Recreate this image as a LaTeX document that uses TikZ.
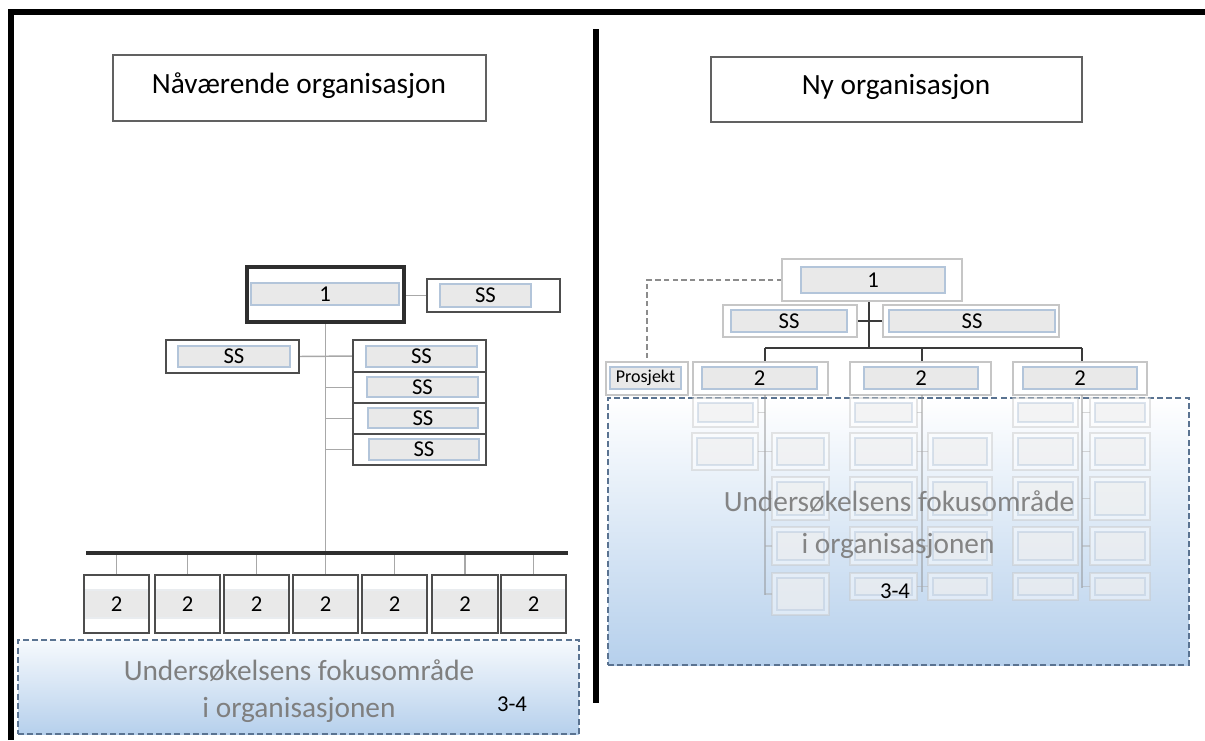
\documentclass[tikz,border=0pt]{standalone}
\usepackage{fontspec}
\setmainfont{Carlito}

\definecolor{boxline}{HTML}{4D4D4D}
\definecolor{innerfill}{HTML}{E9E9E9}
\definecolor{innerline}{HTML}{B3C5DA}
\definecolor{lightline}{HTML}{C6C6C6}
\definecolor{stub}{HTML}{A8A8A8}
\definecolor{treegrey}{HTML}{3A3A3A}
\definecolor{focusline}{HTML}{5A7391}
\definecolor{focusfill}{HTML}{B6D0EC}
\definecolor{focustext}{HTML}{7F7F7F}
\definecolor{colline}{HTML}{8A8A8A}

\newcommand\titlefont{\fontsize{22}{26}\selectfont}
\newcommand\boxfont{\fontsize{17}{20}\selectfont}
\newcommand\prjfont{\fontsize{13.5}{16}\selectfont}
\newcommand\focusfont{\fontsize{22}{26}\selectfont}

\pgfdeclarelayer{links}
\pgfsetlayers{links,main}

\tikzset{
  every node/.style={inner sep=0pt, outer sep=0pt},
  titlebox/.style={draw=black!62, line width=1.5pt, fill=white},
  mainbox/.style={draw=black!82, line width=2.3pt, fill=white},
  orgbox/.style={draw=boxline, line width=1.6pt, fill=white},
  innerbar/.style={draw=innerline, line width=1pt, fill=innerfill, font=\boxfont},
  band/.style={draw=innerline!80!black!20, line width=0.9pt, fill=innerfill, font=\boxfont},
  softbox/.style={draw=lightline, line width=1.1pt, fill=white},
  softbar/.style={draw=innerline, line width=1pt, fill=innerfill, font=\boxfont},
  stubline/.style={draw=stub, line width=1.1pt},
  busline/.style={draw=black!82, line width=3pt},
  treeline/.style={draw=treegrey, line width=1.6pt},
  linkdash/.style={draw=black!45, line width=1.5pt, dash pattern=on 4pt off 2.5pt},
  framebar/.style={draw=black, line width=3.8pt},
  focusbox/.style={draw=focusline, line width=1.5pt, dash pattern=on 4.5pt off 2.4pt},
  focustxt/.style={font=\focusfont, text=focustext},
  colstroke/.style={draw=colline, line width=1.5pt},
}

% box from its corners in pixel units: name, style, x1, y1, x2, y2, text
\newcommand\bx[7]{%
  \pgfmathsetmacro\bxcx{((#3)+(#5))/2}%
  \pgfmathsetmacro\bxcy{((#4)+(#6))/2}%
  \pgfmathsetmacro\bxw{((#5)-(#3))*0.75}%
  \pgfmathsetmacro\bxh{((#6)-(#4))*0.75}%
  \node[#2, minimum width=\bxw pt, minimum height=\bxh pt] (#1) at (\bxcx,\bxcy) {#7};}

% pale sub-unit box with its inner bar: name, x1, y1, x2, y2
\newcommand\fb[5]{%
  \bx{#1}{softbox}{#2}{#3}{#4}{#5}{}%
  \bx{#1in}{softbar}{(#2)+5}{(#3)+5}{(#4)-5}{(#5)-5}{}}

\begin{document}
\begin{tikzpicture}[x=0.75pt, y=-0.75pt]
\useasboundingbox (0,0) rectangle (1205,740);

% frame and divider
\draw[framebar, line join=miter] (11,740) -- (11,12) -- (1205,12);
\draw[draw=black, line width=5pt] (596,29) -- (596,703);

% ---------- current organisation ----------
\bx{titleL}{titlebox}{113}{55}{486}{121}{}
\node[font=\titlefont] (titleLtext) at (299,86) {Nåværende organisasjon};

\bx{oneL}{mainbox}{247}{267}{404}{322}{}
\bx{oneLin}{innerbar}{251}{283}{399}{305}{1}
\bx{ssA}{orgbox}{427}{279}{560}{312}{}
\bx{ssAin}{innerbar}{440}{284}{531}{307}{SS}
\bx{ssB}{orgbox}{166}{340}{299}{373}{}
\bx{ssBin}{innerbar}{178}{346}{290}{367}{SS}

\bx{st1}{orgbox}{353}{340}{486}{372}{}
\bx{st1in}{innerbar}{366}{346}{477}{367}{SS}
\bx{st2}{orgbox}{353}{372}{486}{403}{}
\bx{st2in}{innerbar}{367}{377}{478}{397}{SS}
\bx{st3}{orgbox}{353}{403}{486}{434}{}
\bx{st3in}{innerbar}{368}{408}{478}{428}{SS}
\bx{st4}{orgbox}{353}{434}{486}{465}{}
\bx{st4in}{innerbar}{369}{439}{479}{460}{SS}

\foreach \a/\b [count=\i] in {84/149,155/220,224/289,293/358,362/427,432/498,501/566}{
  \bx{bt\i}{orgbox}{\a}{575}{\b}{633}{}
  \bx{btin\i}{band}{(\a)+1.5}{590}{(\b)-1.5}{618}{2}
}

\coordinate (busL1) at (86,553);
\coordinate (busL2) at (568,553);
\begin{pgfonlayer}{links}
  \draw[stubline] (ssA.west -| oneL.east) -- (ssA.west);
  \draw[stubline] (oneL.south) -- (oneL.south |- busL1);
  \draw[stubline] (ssB.east) -- (st1.west);
  \foreach \k in {2,3,4}{\draw[stubline] (st\k.west -| oneL.south) -- (st\k.west);}
  \foreach \i in {1,...,7}{\draw[stubline] (bt\i.north) -- (bt\i.north |- busL1);}
  \draw[busline] (busL1) -- (busL2);
\end{pgfonlayer}

% focus area, current organisation
\bx{focL}{focusbox, top color=focusfill!12, bottom color=focusfill}{18}{640}{579}{734}{}
\node[focustxt] (focLa) at (299,671) {Undersøkelsens fokusområde};
\node[focustxt] (focLb) at (299,710) {i organisasjonen};
\node[font=\boxfont] (focLc) at (512,704) {3-4};

% ---------- new organisation ----------
\bx{titleR}{titlebox}{711}{57}{1082}{122}{}
\node[font=\titlefont] (titleRtext) at (896,87) {Ny organisasjon};

\bx{oneR}{softbox}{782}{259}{962}{301}{}
\bx{oneRin}{softbar}{801}{267}{945}{293}{1}
\bx{ssC}{softbox}{723}{305}{857}{337}{}
\bx{ssCin}{softbar}{731}{310}{847}{332}{SS}
\bx{ssD}{softbox}{883}{305}{1059}{337}{}
\bx{ssDin}{softbar}{889}{310}{1055}{332}{SS}

\bx{lvA}{softbox}{693}{362}{828}{395}{}
\bx{lvAin}{softbar}{702}{367}{817}{389}{2}
\bx{lvB}{softbox}{850}{362}{991}{395}{}
\bx{lvBin}{softbar}{864}{367}{978}{389}{2}
\bx{lvC}{softbox}{1013}{362}{1147}{395}{}
\bx{lvCin}{softbar}{1023}{367}{1137}{389}{2}
\bx{prj}{softbox}{606}{362}{688}{395}{}
\bx{prjin}{softbar, font=\prjfont}{610}{367}{681}{389}{Prosjekt}

\coordinate (hub) at (869,348);
\coordinate (colA) at (765,348);
\coordinate (colB) at (922,348);
\coordinate (colC) at (1082,348);
\begin{pgfonlayer}{links}
  \draw[treeline] (hub |- oneR.south) -- (hub);
  \draw[treeline] (ssC.east) -- (ssD.west);
  \draw[treeline] (colA) -- (colC);
  \draw[treeline] (colA) -- (colA |- lvA.north);
  \draw[treeline] (colB) -- (colB |- lvB.north);
  \draw[treeline] (colC) -- (colC |- lvC.north);
  \draw[linkdash] (oneR.west) -| (prj.north);
\end{pgfonlayer}

% focus area, new organisation
\bx{focR}{focusbox, top color=white, middle color=focusfill!30, bottom color=focusfill}{608}{398}{1189}{665}{}

% pale sub-units inside the focus area
\begin{scope}[opacity=0.45]
  \coordinate (endA) at (765,595);
  \coordinate (endB) at (922,592);
  \coordinate (endC) at (1082,588);
  \draw[colstroke] (colA |- lvA.south) -- (endA);
  \draw[colstroke] (colB |- lvB.south) -- (endB);
  \draw[colstroke] (colC |- lvC.south) -- (endC);

  \fb{fa1}{693}{398}{758}{427}
  \fb{fa2}{692}{433}{758}{470}
  \fb{fa3}{772}{433}{829}{470}
  \fb{fa4}{772}{477}{829}{520}
  \fb{fa5}{772}{527}{829}{565}
  \fb{fa6}{772}{573}{829}{615}

  \fb{fb1}{850}{398}{917}{427}
  \fb{fb2}{850}{433}{917}{470}
  \fb{fb3}{928}{433}{992}{470}
  \fb{fb4}{850}{477}{917}{520}
  \fb{fb5}{928}{477}{992}{520}
  \fb{fb6}{850}{527}{917}{565}
  \fb{fb7}{928}{527}{992}{565}
  \fb{fb8}{850}{573}{917}{600}
  \fb{fb9}{928}{573}{992}{600}

  \fb{fc1}{1013}{398}{1078}{427}
  \fb{fc2}{1090}{398}{1150}{427}
  \fb{fc3}{1013}{433}{1078}{470}
  \fb{fc4}{1090}{433}{1150}{470}
  \fb{fc5}{1013}{477}{1078}{520}
  \fb{fc6}{1090}{477}{1150}{520}
  \fb{fc7}{1013}{527}{1078}{565}
  \fb{fc8}{1090}{527}{1150}{565}
  \fb{fc9}{1013}{573}{1078}{600}
  \fb{fc10}{1090}{573}{1150}{600}

  \foreach \n in {fa1,fa2}{\draw[stubline] (\n.east) -- (\n.east -| colA);}
  \foreach \n in {fa3,fa4,fa5,fa6}{\draw[stubline] (\n.west) -- (\n.west -| colA);}
  \foreach \n in {fb1,fb2,fb4,fb6,fb8}{\draw[stubline] (\n.east) -- (\n.east -| colB);}
  \foreach \n in {fb3,fb5,fb7,fb9}{\draw[stubline] (\n.west) -- (\n.west -| colB);}
  \foreach \n in {fc2,fc4,fc6,fc8,fc10}{\draw[stubline] (\n.west) -- (\n.west -| colC);}
\end{scope}

\node[focustxt, opacity=0.95] (focRa) at (899,502) {Undersøkelsens fokusområde};
\node[focustxt, opacity=0.95] (focRb) at (898,546) {i organisasjonen};
\node[font=\boxfont] (focRc) at (895,591) {3-4};

\end{tikzpicture}
\end{document}
